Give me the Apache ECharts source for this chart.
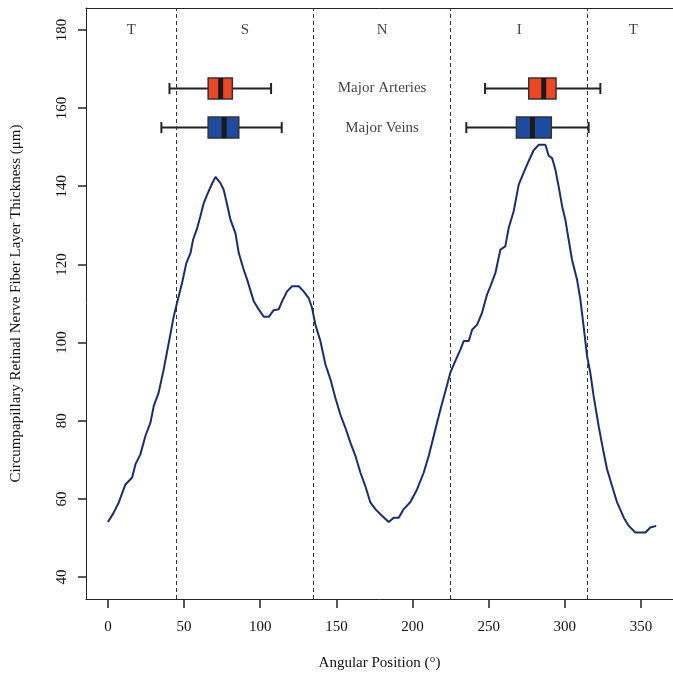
<!DOCTYPE html>
<html>
<head>
<meta charset="utf-8">
<script src="https://cdn.jsdelivr.net/npm/echarts@6/dist/echarts.min.js"></script>
<style>html,body{margin:0;padding:0;background:#fff}#c{width:673px;height:676px}</style>
</head>
<body>
<div id="c"></div>
<script>
// ---- data ----
const angles = [0, 3.8, 7.1, 11.5, 15.9, 18.1, 21.3, 24.6, 27.9, 30.1, 33.3, 36.6, 38.9, 41.0, 43.2, 45.4, 48.7, 51.5, 54.2, 55.9, 58.6, 60.7, 62.9, 65.1, 68.4, 70.6, 73.9, 76.0, 77.8, 80.4, 83.7, 85.9, 89.1, 91.4, 95.7, 99.0, 102.3, 105.6, 108.8, 112.1, 114.4, 117.6, 120.9, 125.3, 128.5, 131.8, 134.0, 136.2, 139.5, 142.8, 146.1, 149.3, 152.6, 155.9, 159.2, 162.5, 165.8, 169.0, 172.3, 175.6, 178.9, 184.3, 187.6, 190.9, 194.2, 198.6, 203.0, 207.3, 210.6, 212.8, 215.0, 218.3, 221.6, 224.8, 228.1, 231.4, 233.6, 236.9, 239.1, 242.4, 245.6, 248.9, 251.1, 254.4, 257.7, 260.9, 263.1, 266.4, 269.7, 272.9, 276.2, 279.5, 282.8, 287.2, 289.4, 291.6, 293.8, 295.9, 298.2, 300.3, 302.5, 304.7, 308.0, 310.2, 312.3, 314.6, 316.7, 318.9, 322.2, 325.5, 327.7, 331.0, 334.3, 338.7, 342.0, 346.3, 352.9, 356.1, 360.0];
const thickness = [54.1, 56.5, 59.1, 63.7, 65.5, 68.9, 71.4, 76.1, 79.5, 83.8, 87.2, 93.1, 97.8, 102.1, 106.7, 110.2, 115.3, 120.4, 122.9, 126.3, 129.3, 132.3, 135.7, 137.8, 140.7, 142.4, 140.8, 139.1, 136.1, 131.5, 128.0, 122.9, 118.7, 116.1, 110.6, 108.5, 106.6, 106.6, 108.3, 108.5, 110.6, 113.1, 114.4, 114.4, 113.1, 111.4, 108.9, 104.6, 100.4, 94.4, 90.6, 85.9, 81.6, 78.2, 74.4, 71.0, 66.7, 63.3, 59.1, 57.4, 56.1, 54.1, 55.2, 55.2, 57.4, 59.2, 62.5, 66.7, 71.0, 74.4, 77.8, 82.9, 87.6, 92.3, 95.3, 98.2, 100.4, 100.4, 103.3, 104.6, 107.6, 112.3, 114.4, 117.8, 123.8, 124.6, 129.3, 133.6, 140.4, 143.4, 146.4, 149.2, 150.6, 150.6, 147.8, 147.2, 144.2, 140.0, 134.9, 131.5, 126.3, 121.2, 116.1, 111.0, 104.2, 96.5, 92.3, 86.3, 78.6, 71.8, 67.6, 63.3, 59.1, 55.2, 53.1, 51.4, 51.4, 52.7, 53.1];

const sectorBounds = [45, 135, 225, 315];
const sectorNames = ['T', 'S', 'N', 'I', 'T'];
const sectorCenters = [15.3, 90, 180, 270, 345];
const sectorLabelY = 180;

// box stats: [low whisker, Q1, median, Q3, high whisker]
const arteryBoxes = [[40.4, 65.8, 74.0, 81.7, 107.1], [247.6, 276.3, 286.1, 294.2, 323.3]];
const veinBoxes = [[35.1, 65.8, 76.3, 85.9, 114.1], [235.3, 268.2, 278.7, 291.1, 315.6]];
const arteryY = 165;
const veinY = 155;
const boxLabels = ['Major Arteries', 'Major Veins'];
const boxLabelX = 180;

const xTicks = [0, 50, 100, 150, 200, 250, 300, 350];
const yTicks = [40, 60, 80, 100, 120, 140, 160, 180];

// ---- chart ----
const FONT = 'Liberation Serif';
const TXT = '#111';
const chart = echarts.init(document.getElementById('c'), null, {renderer: 'canvas'});

function boxRender(fill) {
  return function (params, api) {
    const y = api.value(0);
    const lo = api.coord([api.value(1), y]);
    const q1 = api.coord([api.value(2), y]);
    const md = api.coord([api.value(3), y]);
    const q3 = api.coord([api.value(4), y]);
    const hi = api.coord([api.value(5), y]);
    const cy = lo[1];
    const bh = 21, cap = 11, mw = 5;
    const stroke = '#222';
    return {
      type: 'group',
      children: [
        {type: 'line', shape: {x1: lo[0], y1: cy, x2: hi[0], y2: cy}, style: {stroke: stroke, lineWidth: 2}},
        {type: 'line', shape: {x1: lo[0], y1: cy - cap / 2, x2: lo[0], y2: cy + cap / 2}, style: {stroke: stroke, lineWidth: 2}},
        {type: 'line', shape: {x1: hi[0], y1: cy - cap / 2, x2: hi[0], y2: cy + cap / 2}, style: {stroke: stroke, lineWidth: 2}},
        {type: 'rect', shape: {x: q1[0], y: cy - bh / 2, width: q3[0] - q1[0], height: bh}, style: {fill: fill, stroke: '#333', lineWidth: 1.5}},
        {type: 'rect', shape: {x: md[0] - mw / 2, y: cy - bh / 2, width: mw, height: bh}, style: {fill: '#1a1a1a'}}
      ]
    };
  };
}

const option = {
  animation: false,
  backgroundColor: '#fff',
  grid: {left: 86, right: 0, top: 8, bottom: 76, containLabel: false},
  xAxis: [{
    type: 'value', min: -14.4, max: 371, position: 'bottom',
    name: 'Angular Position (°)', nameLocation: 'middle', nameGap: 57,
    nameTextStyle: {fontFamily: FONT, fontSize: 15, color: TXT},
    axisLine: {show: true, onZero: false, lineStyle: {color: '#222', width: 1}},
    axisTick: {show: true, length: 9, customValues: xTicks, lineStyle: {color: '#222', width: 1.5}},
    axisLabel: {show: true, customValues: xTicks, margin: 21, fontFamily: FONT, fontSize: 15, color: TXT},
    splitLine: {show: false}
  }, {
    type: 'value', min: -14.4, max: 371, position: 'top',
    axisLine: {show: true, onZero: false, lineStyle: {color: '#222', width: 1}},
    axisTick: {show: false}, axisLabel: {show: false}, splitLine: {show: false}
  }],
  yAxis: [{
    type: 'value', min: 34.4, max: 185.6,
    name: 'Circumpapillary Retinal Nerve Fiber Layer Thickness (μm)', nameLocation: 'middle', nameGap: 62,
    nameTextStyle: {fontFamily: FONT, fontSize: 15, color: TXT},
    axisLine: {show: true, onZero: false, lineStyle: {color: '#222', width: 1}},
    axisTick: {show: true, length: 8, customValues: yTicks, lineStyle: {color: '#222', width: 1.5}},
    axisLabel: {show: true, customValues: yTicks, rotate: 90, margin: 16, fontFamily: FONT, fontSize: 15, color: TXT},
    splitLine: {show: false}
  }],
  series: [
    {
      type: 'line', xAxisIndex: 0, yAxisIndex: 0,
      data: angles.map((a, i) => [a, thickness[i]]),
      showSymbol: false, smooth: false,
      lineStyle: {color: '#1D2C70', width: 2},
      markLine: {
        silent: true, symbol: 'none', label: {show: false},
        lineStyle: {color: '#333', type: [4, 3], width: 1},
        data: sectorBounds.map(v => ({xAxis: v}))
      },
      z: 3
    },
    {
      type: 'custom', xAxisIndex: 0, yAxisIndex: 0,
      renderItem: boxRender('#EE4625'),
      encode: {x: [1, 2, 3, 4, 5], y: 0},
      data: arteryBoxes.map(b => [arteryY].concat(b)),
      z: 4
    },
    {
      type: 'custom', xAxisIndex: 0, yAxisIndex: 0,
      renderItem: boxRender('#1C4BA0'),
      encode: {x: [1, 2, 3, 4, 5], y: 0},
      data: veinBoxes.map(b => [veinY].concat(b)),
      z: 4
    },
    {
      type: 'scatter', xAxisIndex: 0, yAxisIndex: 0, symbolSize: 0,
      data: sectorNames.map((n, i) => ({name: n, value: [sectorCenters[i], sectorLabelY]}))
        .concat(boxLabels.map((n, i) => ({name: n, value: [boxLabelX, i === 0 ? arteryY : veinY]}))),
      label: {show: true, position: 'inside', formatter: p => p.name, fontFamily: FONT, fontSize: 15, color: TXT},
      z: 5
    }
  ]
};
chart.setOption(option);
</script>
</body>
</html>
